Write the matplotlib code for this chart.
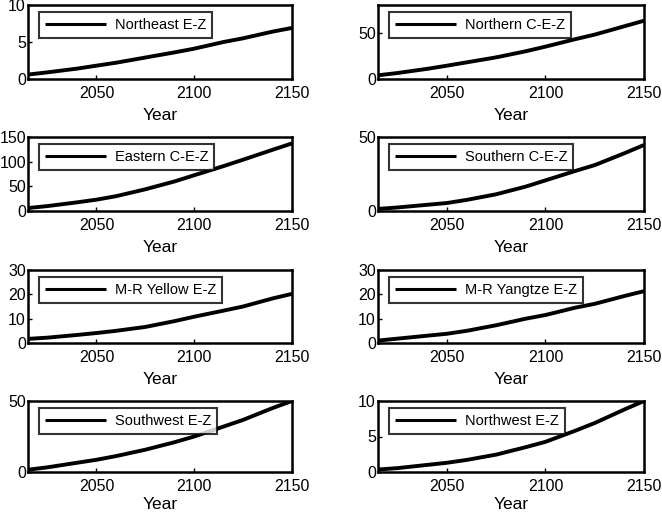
import matplotlib
matplotlib.use("Agg")
import matplotlib.pyplot as plt

plt.rcParams['font.family'] = ['Liberation Sans', 'DejaVu Sans']

years = [2015, 2025, 2040, 2050, 2060, 2075, 2090, 2100, 2115, 2125, 2140, 2150]

northeast = [0.6, 0.9, 1.4, 1.8, 2.2, 2.9, 3.6, 4.1, 5.0, 5.5, 6.4, 6.9]
northern = [4.0, 6.5, 11.0, 14.4, 18.0, 23.4, 30.0, 35.0, 43.0, 48.0, 57.0, 63.0]
eastern = [6.0, 10.0, 17.5, 23.0, 30.0, 44.0, 60.0, 72.5, 91.0, 104.0, 124.0, 137.0]
southern = [1.4, 2.4, 4.2, 5.4, 7.5, 11.3, 16.5, 20.7, 27.0, 31.0, 39.0, 44.6]
yellow = [1.7, 2.2, 3.3, 4.1, 5.0, 6.6, 9.0, 10.8, 13.3, 15.0, 18.3, 20.2]
yangtze = [1.0, 1.8, 3.0, 3.8, 5.0, 7.3, 10.0, 11.5, 14.5, 16.1, 19.3, 21.3]
southwest = [1.6, 3.3, 6.5, 8.6, 11.2, 15.7, 21.0, 25.0, 32.0, 36.7, 45.0, 50.0]
northwest = [0.35, 0.55, 1.0, 1.3, 1.7, 2.45, 3.5, 4.25, 5.8, 6.9, 8.8, 10.0]

labels = ["Northeast E-Z", "Northern C-E-Z", "Eastern C-E-Z", "Southern C-E-Z",
          "M-R Yellow E-Z", "M-R Yangtze E-Z", "Southwest E-Z", "Northwest E-Z"]
series = [northeast, northern, eastern, southern, yellow, yangtze, southwest, northwest]
ylims = [(0, 10), (0, 80), (0, 150), (0, 50), (0, 30), (0, 30), (0, 50), (0, 10)]
yticks = [[0, 5, 10], [0, 50], [0, 50, 100, 150], [0, 50], [0, 10, 20, 30],
          [0, 10, 20, 30], [0, 50], [0, 5, 10]]
xticks = [2050, 2100, 2150]

W, H = 662, 516
fig = plt.figure(figsize=(W / 100, H / 100), dpi=100)

col_x = [(28, 292), (378, 644)]
row_y = [(5, 79), (137, 211), (270, 343), (401, 472)]

for i, (lab, ys) in enumerate(zip(labels, series)):
    r, c = divmod(i, 2)
    x0, x1 = col_x[c]
    y0, y1 = row_y[r]
    ax = fig.add_axes([x0 / W, 1 - y1 / H, (x1 - x0) / W, (y1 - y0) / H])
    ax.plot(years, ys, color='black', lw=2.8, label=lab, solid_capstyle='butt')
    ax.set_xlim(2015, 2150)
    ax.set_ylim(*ylims[i])
    ax.set_xticks(xticks)
    ax.set_yticks(yticks[i])
    ax.tick_params(direction='in', length=3, width=1, labelsize=11.5)
    ax.tick_params(axis='x', pad=5)
    ax.tick_params(axis='y', pad=1.5)
    for s in ax.spines.values():
        s.set_linewidth(1.8)
    ax.set_xlabel("Year", fontsize=12.5, labelpad=(2 if r == 3 else 5))
    leg = ax.legend(loc='upper left', bbox_to_anchor=(0.042, 0.90), fontsize=10.5,
                    handlelength=4.2, frameon=True, fancybox=False, borderpad=0.4,
                    handletextpad=0.6, borderaxespad=0)
    leg.get_frame().set_edgecolor('black')
    leg.get_frame().set_linewidth(1.5)
    leg.get_lines()[0].set_linewidth(2.2)

fig.savefig("out.png", dpi=100)
